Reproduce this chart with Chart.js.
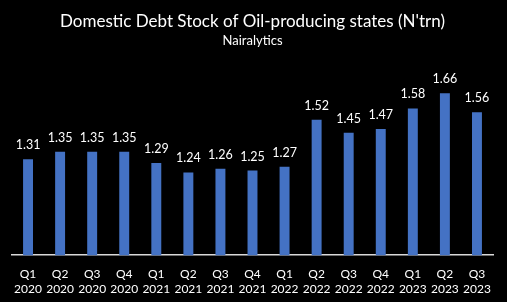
<!DOCTYPE html>
<html><head><meta charset="utf-8">
<script src="https://cdn.jsdelivr.net/npm/chart.js@4.4.0/dist/chart.umd.min.js"></script>
<style>html,body{margin:0;padding:0;background:#000;}#wrap{width:507px;height:302px;}</style>
</head><body><div id="wrap"><canvas id="c" width="507" height="302"></canvas></div>
<script>
const quarters = ['Q1','Q2','Q3','Q4','Q1','Q2','Q3','Q4','Q1','Q2','Q3','Q4','Q1','Q2','Q3'];
const years = ['2020','2020','2020','2020','2021','2021','2021','2021','2022','2022','2022','2022','2023','2023','2023'];
const debtStock = [1.31,1.35,1.35,1.35,1.29,1.24,1.26,1.25,1.27,1.52,1.45,1.47,1.58,1.66,1.56];
const labels = quarters.map((q,i)=>[q, years[i]]);
const FONT = 'Lato';
const valueLabels = {
  id:'valueLabels',
  afterDatasetsDraw(chart){
    const ctx = chart.ctx;
    const meta = chart.getDatasetMeta(0);
    ctx.save();
    ctx.fillStyle = '#ffffff';
    ctx.font = '12.5px ' + FONT;
    ctx.textAlign = 'center';
    ctx.textBaseline = 'middle';
    meta.data.forEach((bar,i)=>{
      ctx.fillText(debtStock[i].toFixed(2), bar.x, bar.y - 14);
    });
    ctx.restore();
  }
};
new Chart(document.getElementById('c'), {
  type:'bar',
  data:{labels:labels, datasets:[{data:debtStock, backgroundColor:'#4472C4', barPercentage:0.31, categoryPercentage:1}]},
  options:{
    responsive:false, animation:false,
    layout:{padding:{left:12,right:14,top:0,bottom:2}},
    plugins:{
      legend:{display:false}, tooltip:{enabled:false},
      title:{display:true, text:"Domestic Debt Stock of Oil-producing states (N'trn)", color:'#ffffff', font:{family:FONT, size:17, weight:'normal'}, padding:{top:11,bottom:2}},
      subtitle:{display:true, text:'Nairalytics', color:'#ffffff', font:{family:FONT, size:13, weight:'normal'}, padding:{top:0,bottom:18}}
    },
    scales:{
      x:{grid:{display:false}, border:{color:'#d9d9d9', width:1.5}, ticks:{color:'#ffffff', font:{family:FONT,size:12}, maxRotation:0, autoSkip:false, padding:4}},
      y:{display:false, min:0.8, max:1.8}
    }
  },
  plugins:[valueLabels]
});
</script></body></html>
